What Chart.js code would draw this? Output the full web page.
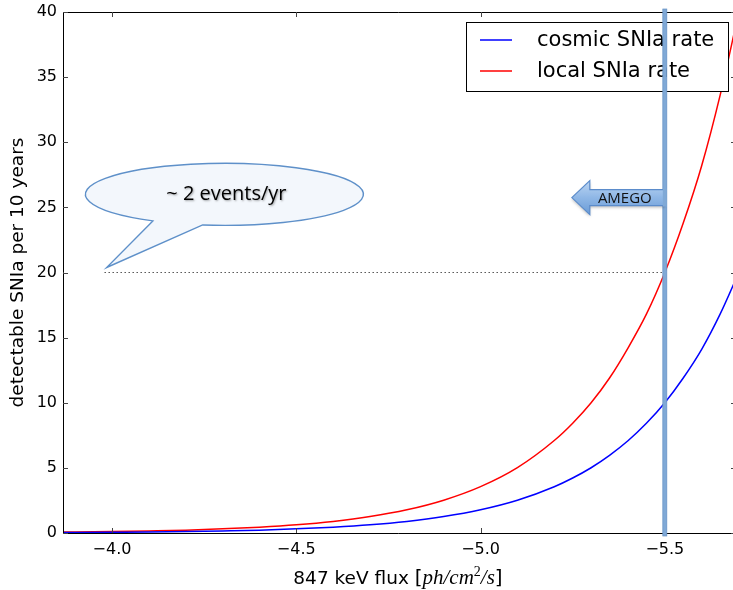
<!DOCTYPE html>
<html>
<head>
<meta charset="utf-8">
<script src="https://cdn.jsdelivr.net/npm/chart.js@4"></script>
<style>
html, body { margin: 0; padding: 0; background: #fff; }
</style>
</head>
<body>
<canvas id="myChart" width="733" height="590"></canvas>
<script>
// values
var fluxGrid   = [-3.85, -3.9, -4.0, -4.1, -4.2, -4.3, -4.4, -4.5, -4.6, -4.7, -4.8, -4.9, -5.0,
                  -5.1, -5.2, -5.25, -5.3, -5.35, -5.4, -5.45, -5.5, -5.55, -5.6, -5.65, -5.7];
var cosmicRate = [0.03, 0.04, 0.06, 0.08, 0.11, 0.16, 0.22, 0.32, 0.45, 0.63, 0.89, 1.26, 1.78,
                  2.51, 3.55, 4.22, 5.01, 5.96, 7.08, 8.42, 10.0, 11.9, 14.1, 16.8, 19.95];
var localRate  = [0.07, 0.08, 0.11, 0.16, 0.22, 0.32, 0.45, 0.63, 0.89, 1.26, 1.78, 2.52, 3.56,
                  5.02, 7.10, 8.43, 10.0, 11.9, 14.2, 16.8, 20.0, 23.8, 28.2, 33.6, 39.9];
var seriesLabels = ['cosmic SNIa rate', 'local SNIa rate'];
var seriesColors = ['rgb(0, 0, 255)', 'rgb(255, 0, 0)'];

var thresholdFlux = [-3.98, -5.5];   // dotted line at 20 events / 10 yr
var thresholdRate = [20, 20];
var amegoLimit = -5.5;

var xTicks = [-4.0, -4.5, -5.0, -5.5];
var yTicks = [0, 5, 10, 15, 20, 25, 30, 35, 40];

var calloutText = '~ 2 events/yr';
var amegoLabel = 'AMEGO';

function toPoints(xs, ys) {
    return xs.map(function (x, i) { return {x: x, y: ys[i]}; });
}

var axisFont = {family: 'DejaVu Sans', size: 16};
var labelFont = {family: 'DejaVu Sans', size: 18.5};

// extra drawing: frame, inward ticks, legend box, AMEGO line/arrow, callout, x title
var extras = {
    id: 'extras',
    afterDraw: function (chart) {
        var ctx = chart.ctx;
        var a = chart.chartArea;
        var xs = chart.scales.x, ys = chart.scales.y;
        ctx.save();

        // frame
        ctx.strokeStyle = '#000';
        ctx.lineWidth = 1;
        ctx.beginPath();
        ctx.moveTo(a.left + 0.5, a.top + 0.5);
        ctx.lineTo(a.right + 2, a.top + 0.5);
        ctx.moveTo(a.left + 0.5, a.top);
        ctx.lineTo(a.left + 0.5, a.bottom + 0.5);
        ctx.lineTo(a.right + 2, a.bottom + 0.5);
        ctx.stroke();

        // inward ticks
        ctx.strokeStyle = '#444';
        ctx.beginPath();
        xTicks.forEach(function (v) {
            var px = Math.round(xs.getPixelForValue(v)) + 0.5;
            ctx.moveTo(px, a.bottom); ctx.lineTo(px, a.bottom - 5);
            ctx.moveTo(px, a.top); ctx.lineTo(px, a.top + 5);
        });
        yTicks.forEach(function (v) {
            var py = Math.round(ys.getPixelForValue(v)) + 0.5;
            ctx.moveTo(a.left, py); ctx.lineTo(a.left + 5, py);
            ctx.moveTo(a.right, py); ctx.lineTo(a.right - 2, py);
        });
        ctx.stroke();

        // legend
        var lx = 466.5, ly = 22.5, lw = 262, lh = 69;
        ctx.fillStyle = '#fff';
        ctx.fillRect(lx, ly, lw, lh);
        ctx.strokeStyle = '#000';
        ctx.lineWidth = 1;
        ctx.strokeRect(lx, ly, lw, lh);
        ctx.font = '21px "DejaVu Sans"';
        ctx.textBaseline = 'middle';
        ctx.textAlign = 'left';
        seriesLabels.forEach(function (lab, i) {
            var yy = 40 + i * 31;
            ctx.strokeStyle = seriesColors[i];
            ctx.lineWidth = 1.5;
            ctx.beginPath();
            ctx.moveTo(480, yy); ctx.lineTo(512, yy);
            ctx.stroke();
            ctx.fillStyle = '#000';
            ctx.fillText(lab, 537, yy + 1);
        });

        // AMEGO sensitivity line
        var vx = xs.getPixelForValue(amegoLimit);
        ctx.fillStyle = '#80a9d6';
        ctx.fillRect(vx - 2, a.top - 3, 4, a.bottom - a.top + 6);
        ctx.strokeStyle = '#6490c4';
        ctx.lineWidth = 0.7;
        ctx.strokeRect(vx - 2, a.top - 3, 4, a.bottom - a.top + 6);

        // AMEGO arrow
        var ay = ys.getPixelForValue(25.75);
        var tipX = vx - 93, headX = vx - 75;
        ctx.beginPath();
        ctx.moveTo(tipX, ay);
        ctx.lineTo(headX, ay - 17);
        ctx.lineTo(headX, ay - 8);
        ctx.lineTo(vx, ay - 8);
        ctx.lineTo(vx, ay + 8);
        ctx.lineTo(headX, ay + 8);
        ctx.lineTo(headX, ay + 17);
        ctx.closePath();
        var g = ctx.createLinearGradient(0, ay - 17, 0, ay + 17);
        g.addColorStop(0, '#bcd5f2');
        g.addColorStop(0.5, '#8fb7e6');
        g.addColorStop(1, '#6a9bd6');
        ctx.shadowColor = 'rgba(0,0,0,0.25)';
        ctx.shadowBlur = 3;
        ctx.shadowOffsetY = 2;
        ctx.fillStyle = g;
        ctx.fill();
        ctx.shadowColor = 'transparent';
        ctx.strokeStyle = '#5b8ccb';
        ctx.lineWidth = 1.2;
        ctx.stroke();
        ctx.fillStyle = '#111';
        ctx.font = '15px "Open Sans"';
        ctx.textAlign = 'center';
        ctx.fillText(amegoLabel, vx - 40, ay + 1);
        ctx.fillStyle = '#80a9d6';
        ctx.fillRect(vx - 2, ay - 9, 4, 18);

        // callout bubble
        var cx = xs.getPixelForValue(-4.305), cy = ys.getPixelForValue(26.0);
        var rx = 139, ry = 31;
        var tx = xs.getPixelForValue(thresholdFlux[0]) + 2, ty = ys.getPixelForValue(20) - 5;
        var tA = 121 * Math.PI / 180, tB = 99 * Math.PI / 180;
        ctx.beginPath();
        ctx.ellipse(cx, cy, rx, ry, 0, tA, tB + 2 * Math.PI);
        ctx.lineTo(tx, ty);
        ctx.closePath();
        ctx.fillStyle = '#f3f7fc';
        ctx.fill();
        ctx.strokeStyle = '#5e90c9';
        ctx.lineWidth = 1.4;
        ctx.stroke();
        ctx.shadowColor = 'rgba(0,0,0,0.35)';
        ctx.shadowBlur = 2;
        ctx.shadowOffsetX = 1;
        ctx.shadowOffsetY = 1;
        ctx.fillStyle = '#000';
        ctx.font = '20px "Open Sans"';
        ctx.textAlign = 'center';
        ctx.fillText(calloutText, cx + 2, cy);
        ctx.shadowColor = 'transparent';

        // x axis title with math part
        var parts = [
            {t: '847 keV flux ', f: '18.5px "DejaVu Sans"', dy: 0},
            {t: '[', f: '20px "DejaVu Sans"', dy: 0},
            {t: 'ph/cm', f: 'italic 21px "Liberation Serif"', dy: 0},
            {t: '2', f: '14px "Liberation Serif"', dy: -8},
            {t: '/s', f: 'italic 21px "Liberation Serif"', dy: 0},
            {t: ']', f: '20px "DejaVu Sans"', dy: 0}
        ];
        var total = 0;
        parts.forEach(function (p) { ctx.font = p.f; p.w = ctx.measureText(p.t).width; total += p.w; });
        var px0 = (a.left + a.right) / 2 - total / 2;
        ctx.textAlign = 'left';
        ctx.textBaseline = 'alphabetic';
        ctx.fillStyle = '#000';
        parts.forEach(function (p) {
            ctx.font = p.f;
            ctx.fillText(p.t, px0, 584 + p.dy);
            px0 += p.w;
        });

        ctx.restore();
    }
};

var data = {
    datasets: [{
        label: seriesLabels[0],
        data: toPoints(fluxGrid, cosmicRate),
        borderColor: seriesColors[0],
        backgroundColor: seriesColors[0],
        borderWidth: 1.5,
        pointRadius: 0,
        cubicInterpolationMode: 'monotone'
    },
    {
        label: seriesLabels[1],
        data: toPoints(fluxGrid, localRate),
        borderColor: seriesColors[1],
        backgroundColor: seriesColors[1],
        borderWidth: 1.5,
        pointRadius: 0,
        cubicInterpolationMode: 'monotone'
    },
    {
        label: 'threshold',
        data: toPoints(thresholdFlux, thresholdRate),
        borderColor: '#000',
        borderWidth: 1,
        borderDash: [1, 3],
        pointRadius: 0
    }]
};

const config = {
    type: 'line',
    data: data,
    plugins: [extras],
    options: {
        responsive: false,
        animation: false,
        layout: {padding: {top: 12, right: 0, left: 0, bottom: 0}},
        plugins: {
            legend: {display: false},
            tooltip: {enabled: false}
        },
        scales: {
            x: {
                type: 'linear',
                min: -5.685,
                max: -3.867,
                reverse: true,
                grid: {display: false, drawTicks: false},
                border: {display: false},
                ticks: {
                    font: axisFont,
                    color: '#000',
                    padding: 7,
                    maxRotation: 0,
                    callback: function (v) { return (v < 0 ? '\u2212' : '') + Math.abs(v).toFixed(1); }
                },
                afterBuildTicks: function (axis) { axis.ticks = xTicks.map(function (v) { return {value: v}; }); },
                afterFit: function (axis) {
                    axis.height = 57;
                    axis.paddingLeft = 0; axis.paddingRight = 0;
                }
            },
            y: {
                min: 0,
                max: 40,
                grid: {display: false, drawTicks: false},
                border: {display: false},
                title: {
                    display: true,
                    text: 'detectable SNIa per 10 years',
                    font: labelFont,
                    color: '#000',
                    padding: {top: 7, bottom: 0}
                },
                ticks: {font: axisFont, color: '#000', padding: 6},
                afterBuildTicks: function (axis) { axis.ticks = yTicks.map(function (v) { return {value: v}; }); },
                afterFit: function (axis) {
                    axis.width = 63;
                    axis.paddingTop = 0; axis.paddingBottom = 0;
                }
            }
        }
    }
};

const myChart = new Chart(document.getElementById('myChart'), config);
</script>
</body>
</html>
